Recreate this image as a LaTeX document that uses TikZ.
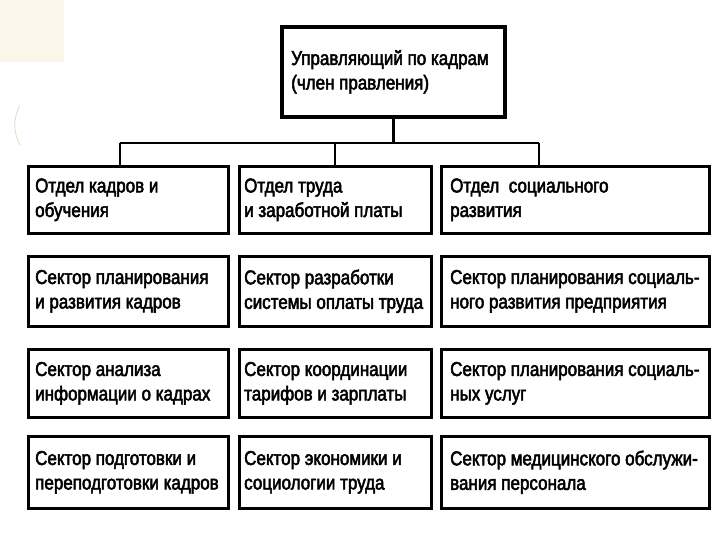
\documentclass[tikz,border=0pt]{standalone}
\usepackage{fontspec}
\setmainfont{Liberation Sans}[FakeStretch=0.85,FakeBold=2.5]
\newcommand{\boxfnt}{\fontsize{20}{24.5}\selectfont}
\tikzset{
  box/.style={draw=black, line width=2.6pt, anchor=north west, inner sep=0pt},
  topbox/.style={box, line width=3.8pt},
  txt/.style={anchor=west, inner sep=0pt, align=left, font=\boxfnt},
  conn/.style={draw=black, line width=2.2pt}
}
\newcommand{\boxtxt}[3]{\node[txt] (#1t) at ([xshift=#2]#1.west) {#3};}
\begin{document}
\begin{tikzpicture}[x=1pt,y=-1pt]
\useasboundingbox (0,0) rectangle (720,540);
% faint background remnants
\fill[fill={rgb,255:red,252;green,246;blue,234}] (0,0) rectangle (64,62);
\draw[draw={rgb,255:red,235;green,215;blue,190}, line width=0.8pt] (20,105) .. controls (13,118) and (13,132) .. (20,145);

\node[topbox, minimum width=223pt, minimum height=90pt] (top) at (280,25) {};
\boxtxt{top}{11pt}{Управляющий по кадрам\\(член правления)}

\node[box, minimum width=200pt, minimum height=67pt] (a1) at (27,165) {};
\node[box, minimum width=192pt, minimum height=67pt] (b1) at (238,165) {};
\node[box, minimum width=268pt, minimum height=67pt] (c1) at (440,165) {};
\boxtxt{a1}{8pt}{Отдел кадров и\\обучения}
\boxtxt{b1}{6pt}{Отдел труда\\и заработной платы}
\boxtxt{c1}{10pt}{Отдел\ \ социального\\развития}

\node[box, minimum width=200pt, minimum height=70pt] (a2) at (27,255) {};
\node[box, minimum width=192pt, minimum height=70pt] (b2) at (238,255) {};
\node[box, minimum width=268pt, minimum height=70pt] (c2) at (440,255) {};
\boxtxt{a2}{8pt}{Сектор планирования\\и развития кадров}
\boxtxt{b2}{6pt}{Сектор разработки\\системы оплаты труда}
\boxtxt{c2}{10pt}{Сектор планирования социаль-\\ного развития предприятия}

\node[box, minimum width=200pt, minimum height=68pt] (a3) at (27,348) {};
\node[box, minimum width=192pt, minimum height=68pt] (b3) at (238,348) {};
\node[box, minimum width=268pt, minimum height=68pt] (c3) at (440,348) {};
\boxtxt{a3}{8pt}{Сектор анализа\\информации о кадрах}
\boxtxt{b3}{6pt}{Сектор координации\\тарифов и зарплаты}
\boxtxt{c3}{10pt}{Сектор планирования социаль-\\ных услуг}

\node[box, minimum width=200pt, minimum height=72pt] (a4) at (27,435) {};
\node[box, minimum width=192pt, minimum height=72pt] (b4) at (238,435) {};
\node[box, minimum width=268pt, minimum height=72pt] (c4) at (440,435) {};
\boxtxt{a4}{8pt}{Сектор подготовки и\\переподготовки кадров}
\boxtxt{b4}{6pt}{Сектор экономики и\\социологии труда}
\boxtxt{c4}{10pt}{Сектор медицинского обслужи-\\вания персонала}

\coordinate (busL) at (120,143);
\coordinate (busR) at (539,143);
\draw[conn] (top.south) -- (top.south |- busL);
\draw[conn] (busL) -- (busR);
\draw[conn] (busL) -- (busL |- a1.north);
\draw[conn] (b1.north |- busL) -- (b1.north);
\draw[conn] (busR) -- (busR |- c1.north);
\end{tikzpicture}
\end{document}
